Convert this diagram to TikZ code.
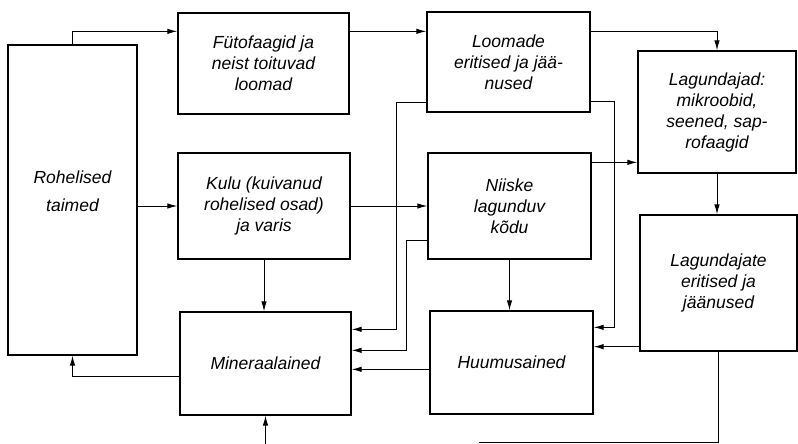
\documentclass[tikz,border=0pt]{standalone}
\usepackage{fontspec}
\newfontfamily\lblfont{Liberation Sans}
\usetikzlibrary{positioning,arrows.meta,calc}
\tikzset{
  >={Latex[length=10pt,width=5.5pt]},
  cbox/.style={draw=black,line width=1.3pt,align=center,inner sep=2pt,
    font=\lblfont\itshape\fontsize{17.5}{21}\selectfont},
  flow/.style={->,line width=1pt},
  lnk/.style={line width=1pt},
}

\begin{document}
\begin{tikzpicture}[x=1pt,y=-1pt]
  \useasboundingbox (0,0) rectangle (798,444);
  % column 1
  \node[cbox,minimum width=129pt,minimum height=310pt] (rohel) at (72.5,200) {Rohelised\\[7pt]taimed\\[-4pt]~};
  % column 2
  \node[cbox,minimum width=171pt,minimum height=101pt] (fyto) at (263.5,63.5) {Fütofaagid ja\\neist toituvad\\loomad};
  \node[cbox,minimum width=172pt,minimum height=106pt] (kulu) at (264,206) {Kulu (kuivanud\\rohelised osad)\\ja varis};
  \node[cbox,minimum width=171pt,minimum height=103pt] (miner) at (265.5,363.5) {Mineraalained};
  % column 3
  \node[cbox,minimum width=163pt,minimum height=100pt] (loom) at (508.5,62) {Loomade\\eritised ja jää-\\nused};
  \node[cbox,minimum width=163pt,minimum height=106pt] (niisk) at (509.5,206) {Niiske\\lagunduv\\kõdu};
  \node[cbox,minimum width=163pt,minimum height=103pt] (huum) at (511.5,362.5) {Huumusained};
  % column 4
  \node[cbox,minimum width=158pt,minimum height=122pt] (lagu) at (717,112) {Lagundajad:\\mikroobid,\\seened, sap-\\rofaagid};
  \node[cbox,minimum width=157pt,minimum height=136pt] (lagj) at (718.5,283) {Lagundajate\\eritised ja\\jäänused};
  \coordinate (minin) at (265.5,444);
  % flows along the top
  \draw[flow] (rohel.north) |- ($(fyto.north west)+(0,19)$);
  \draw[flow] ($(fyto.north east)+(0,19)$) coordinate (f1) -- (f1 -| loom.west);
  \draw[flow] (f1 -| loom.east) -| (lagu.north);
  % middle row
  \draw[flow] (kulu.west -| rohel.east) -- (kulu.west);
  \draw[flow] (kulu.east) -- (kulu.east -| niisk.west);
  \draw[flow] ($(niisk.north east)+(0,10)$) coordinate (n1) -- (n1 -| lagu.west);
  % downwards
  \draw[flow] (kulu.south) -- (kulu.south |- miner.north);
  \draw[flow] (niisk.south) -- (niisk.south |- huum.north);
  \draw[flow] (lagu.south) -- (lagu.south |- lagj.north);
  % into Mineraalained
  \draw[flow] ($(loom.south west)+(0,-10)$) -- ++(-30,0) |- ($(miner.north east)+(0,18)$);
  \draw[flow] ($(niisk.south west)+(0,-19)$) -- ++(-21,0) |- ($(miner.north east)+(0,39)$);
  \draw[flow] ($(huum.north west)+(0,59)$) coordinate (h1) -- (h1 -| miner.east);
  \draw[flow] (minin) -- (miner.south);
  % into Huumusained
  \draw[flow] ($(loom.south east)+(0,-11)$) -- ++(24,0) |- ($(huum.north east)+(0,17)$);
  \draw[flow] ($(lagj.south west)+(0,-5)$) coordinate (l1) -- (l1 -| huum.east);
  % back to the plants
  \draw[flow] ($(miner.north west)+(0,65)$) -| (rohel.south);
  \draw[lnk] (lagj.south) -- ++(0,91) -- ++(-240,0) coordinate (lagout);
\end{tikzpicture}
\end{document}
